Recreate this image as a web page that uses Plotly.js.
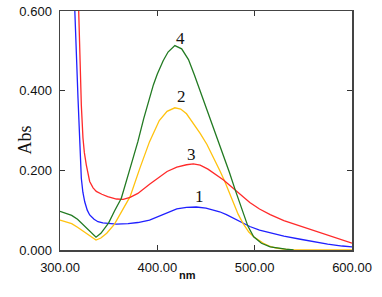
<!DOCTYPE html>
<html>
<head>
<meta charset="utf-8">
<script src="https://cdn.plot.ly/plotly-3.0.1.min.js"></script>
<style>html,body{margin:0;padding:0;background:#fff;}#chart{width:382px;height:297px;}</style>
</head>
<body>
<div id="chart"></div>
<script>
// Wavelength (nm) and absorbance for each curve
var x1 = [313, 315, 316.8, 318.5, 320.2, 321.9, 323.5, 325.4, 328, 330.5, 335, 339, 344, 349, 358, 370, 380, 392, 400, 410, 420, 430, 440, 450, 458, 464, 471, 478, 487, 495, 505, 516, 530, 547, 560, 575, 590, 600];
var y1 = [0.75, 0.6, 0.498, 0.381, 0.281, 0.18, 0.145, 0.121, 0.100, 0.088, 0.077, 0.071, 0.068, 0.067, 0.065, 0.066, 0.069, 0.075, 0.083, 0.094, 0.103, 0.107, 0.108, 0.105, 0.100, 0.096, 0.089, 0.080, 0.069, 0.059, 0.050, 0.043, 0.035, 0.027, 0.021, 0.015, 0.010, 0.008];

var x2 = [300, 305, 312, 318, 322, 327, 332, 337, 342, 348, 356, 364, 372, 382, 392, 402, 410, 418, 424, 430, 437, 444, 451, 458, 464, 469, 474, 478, 483, 488, 494, 499, 504, 509, 515, 522, 530, 540, 560, 580, 600];
var y2 = [0.075, 0.072, 0.066, 0.057, 0.050, 0.042, 0.033, 0.025, 0.030, 0.042, 0.065, 0.098, 0.134, 0.205, 0.272, 0.325, 0.348, 0.357, 0.354, 0.342, 0.318, 0.293, 0.265, 0.232, 0.200, 0.174, 0.143, 0.117, 0.090, 0.067, 0.045, 0.033, 0.024, 0.017, 0.010, 0.005, 0.002, 0.0, 0.0, 0.0, 0.0];

var x3 = [317.5, 319.2, 320.2, 321.9, 323.6, 325, 327, 330.5, 334, 337.3, 343, 349, 358, 365, 372, 380, 392, 400, 410, 420, 430, 437, 444, 452, 460, 468, 474, 480, 488, 495, 505, 516, 530, 547, 560, 572, 585, 600];
var y3 = [0.75, 0.6, 0.49, 0.364, 0.281, 0.245, 0.214, 0.172, 0.156, 0.147, 0.140, 0.134, 0.128, 0.127, 0.132, 0.142, 0.165, 0.180, 0.197, 0.208, 0.214, 0.216, 0.213, 0.203, 0.190, 0.176, 0.163, 0.151, 0.134, 0.119, 0.103, 0.089, 0.074, 0.060, 0.049, 0.039, 0.028, 0.017];

var x4 = [300, 305, 312, 318, 322, 327, 332, 337, 342, 350, 356, 363, 372, 380, 386, 392, 396, 400, 406, 411, 418, 425, 432, 438, 444, 450, 456, 462, 468, 474, 480, 487, 493, 499, 507, 516, 525, 532, 540];
var y4 = [0.097, 0.093, 0.087, 0.077, 0.067, 0.055, 0.042, 0.032, 0.042, 0.068, 0.098, 0.130, 0.205, 0.272, 0.330, 0.382, 0.415, 0.442, 0.475, 0.497, 0.513, 0.505, 0.478, 0.440, 0.400, 0.358, 0.318, 0.280, 0.240, 0.195, 0.151, 0.100, 0.060, 0.033, 0.017, 0.008, 0.004, 0.002, 0.0];

var curveLabels = ['1', '2', '3', '4'];
var labelX = [443.3, 424.8, 434.6, 424.3];
var labelY = [0.134, 0.385, 0.241, 0.532];

var xTickVals = [300, 400, 500, 600];
var xTickText = ['300.00', '400.00', '500.00', '600.00'];
var yTickVals = [0, 0.2, 0.4, 0.6];
var yTickText = ['0.000', '0.200', '0.400', '0.600'];

var colors = ['#2020ff', '#ffc20e', '#ff2a2a', '#227a22'];

var traces = [
  {x: x1, y: y1, mode: 'lines', line: {color: colors[0], width: 1.3}},
  {x: x2, y: y2, mode: 'lines', line: {color: colors[1], width: 1.3}},
  {x: x3, y: y3, mode: 'lines', line: {color: colors[2], width: 1.3}},
  {x: x4, y: y4, mode: 'lines', line: {color: colors[3], width: 1.3}}
];

var tickFont = {family: 'Liberation Sans, Arial, sans-serif', size: 13, color: '#111'};

var annotations = curveLabels.map(function (t, i) {
  return {x: labelX[i], y: labelY[i], xref: 'x', yref: 'y', text: t, showarrow: false,
    font: {family: 'Liberation Serif, Times New Roman, serif', size: 17, color: '#111'}};
});
annotations.push({x: 12.5, y: 140, xref: 'paper', yref: 'paper', text: 'Abs', showarrow: false, textangle: -90,
  font: {family: 'Liberation Serif, Times New Roman, serif', size: 18, color: '#111'}});
annotations.push({x: 187.5, y: 283, xref: 'paper', yref: 'paper', text: '<b>nm</b>', showarrow: false,
  font: {family: 'Liberation Sans, Arial, sans-serif', size: 11, color: '#111'}});

// convert pixel positions of axis titles to paper coords
var L = 60, R = 30, T = 11, B = 47, W = 382, H = 297;
var pw = W - L - R, ph = H - T - B;
annotations[4].x = (annotations[4].x - L) / pw;
annotations[4].y = (H - B - annotations[4].y) / ph;
annotations[5].x = (annotations[5].x - L) / pw;
annotations[5].y = (H - B - annotations[5].y) / ph;

var layout = {
  width: W, height: H,
  margin: {l: L, r: R, t: T, b: B},
  paper_bgcolor: '#fff', plot_bgcolor: '#fff',
  showlegend: false,
  xaxis: {range: [300, 600], tickvals: xTickVals, ticktext: xTickText, ticks: 'inside', ticklen: 5,
    tickcolor: '#333', tickwidth: 1.2, mirror: 'ticks', showline: true, linecolor: '#444', linewidth: 1.5,
    showgrid: false, zeroline: false, tickfont: tickFont, ticklabelstandoff: 5, layer: 'below traces'},
  yaxis: {range: [0, 0.6], tickvals: yTickVals, ticktext: yTickText, ticks: 'inside', ticklen: 5,
    tickcolor: '#333', tickwidth: 1.2, mirror: 'ticks', showline: true, linecolor: '#444', linewidth: 1.5,
    showgrid: false, zeroline: false, tickfont: tickFont, ticklabelstandoff: 4, layer: 'below traces'},
  annotations: annotations
};

Plotly.newPlot('chart', traces, layout, {displayModeBar: false, staticPlot: true});
</script>
</body>
</html>
